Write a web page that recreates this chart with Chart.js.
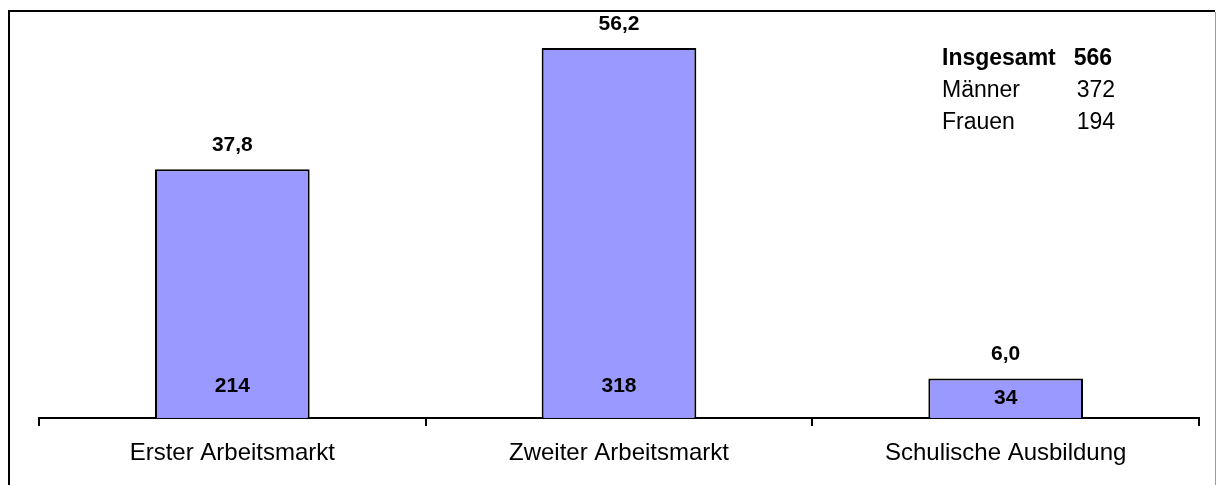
<!DOCTYPE html>
<html>
<head>
<meta charset="utf-8">
<script src="https://cdn.jsdelivr.net/npm/chart.js@4"></script>
<style>
html,body{margin:0;padding:0;background:#fff;}
#wrap{width:1216px;height:485px;position:relative;}
</style>
</head>
<body>
<div id="wrap"><canvas id="c" width="1216" height="485"></canvas></div>
<script>
const categories = ['Erster Arbeitsmarkt', 'Zweiter Arbeitsmarkt', 'Schulische Ausbildung'];
const percentValues = [37.8, 56.2, 6.0];
const countValues = [214, 318, 34];
const legendLabels = ['Insgesamt', 'Männer', 'Frauen'];
const legendValues = [566, 372, 194];

const FONT = '"Liberation Sans", Arial, sans-serif';

const fmt = v => v.toFixed(1).replace('.', ',');

const framePlugin = {
  id: 'frame',
  beforeDraw(chart) {
    const ctx = chart.ctx;
    ctx.save();
    ctx.fillStyle = '#fff';
    ctx.fillRect(0, 0, chart.width, chart.height);
    ctx.strokeStyle = '#000';
    ctx.lineWidth = 2;
    ctx.beginPath();
    ctx.moveTo(8, 11);
    ctx.lineTo(1215, 11);
    ctx.moveTo(9, 10);
    ctx.lineTo(9, 485);
    ctx.stroke();
    ctx.strokeStyle = '#999';
    ctx.lineWidth = 1;
    ctx.beginPath();
    ctx.moveTo(1215.5, 12);
    ctx.lineTo(1215.5, 485);
    ctx.stroke();
    ctx.restore();
  }
};

const labelPlugin = {
  id: 'labels',
  afterDatasetsDraw(chart) {
    const ctx = chart.ctx;
    const meta = chart.getDatasetMeta(0);
    ctx.save();
    ctx.fillStyle = '#000';
    ctx.textAlign = 'center';
    ctx.textBaseline = 'middle';
    ctx.font = 'bold 21px ' + FONT;
    meta.data.forEach((bar, i) => {
      ctx.fillText(fmt(percentValues[i]), bar.x, bar.y - 24);
      const cy = Math.max(bar.base - 32, (bar.y + bar.base) / 2);
      ctx.fillText(String(countValues[i]), bar.x, cy);
    });
    // info box
    const lx = 942, rx = 1115;
    legendLabels.forEach((lab, i) => {
      const y = 59 + i * 32;
      ctx.font = (i === 0 ? 'bold ' : '') + '23px ' + FONT;
      ctx.textAlign = 'left';
      ctx.fillText(lab, lx, y);
      ctx.textAlign = 'right';
      ctx.fillText(String(legendValues[i]), i === 0 ? rx - 3 : rx, y);
    });
    ctx.restore();
  }
};

new Chart(document.getElementById('c'), {
  type: 'bar',
  data: {
    labels: categories,
    datasets: [{
      data: percentValues,
      backgroundColor: '#9999FF',
      borderColor: '#000',
      borderWidth: 2,
      borderSkipped: 'bottom',
      barPercentage: 1,
      categoryPercentage: 0.4
    }]
  },
  options: {
    responsive: false,
    animation: false,
    events: [],
    layout: { padding: { left: 39, right: 17, top: 23, bottom: 0 } },
    plugins: { legend: { display: false }, tooltip: { enabled: false } },
    scales: {
      y: { display: false, min: 0, max: 60 },
      x: {
        offset: true,
        grid: { display: true, offset: true, drawOnChartArea: false, drawTicks: true, tickLength: 8, color: '#000', lineWidth: 2 },
        border: { display: true, color: '#000', width: 2 },
        ticks: { color: '#000', font: { family: FONT, size: 24 }, padding: 13, maxRotation: 0, autoSkip: false },
        afterFit(scale) { scale.height = 67; }
      }
    }
  },
  plugins: [framePlugin, labelPlugin]
});
</script>
</body>
</html>
